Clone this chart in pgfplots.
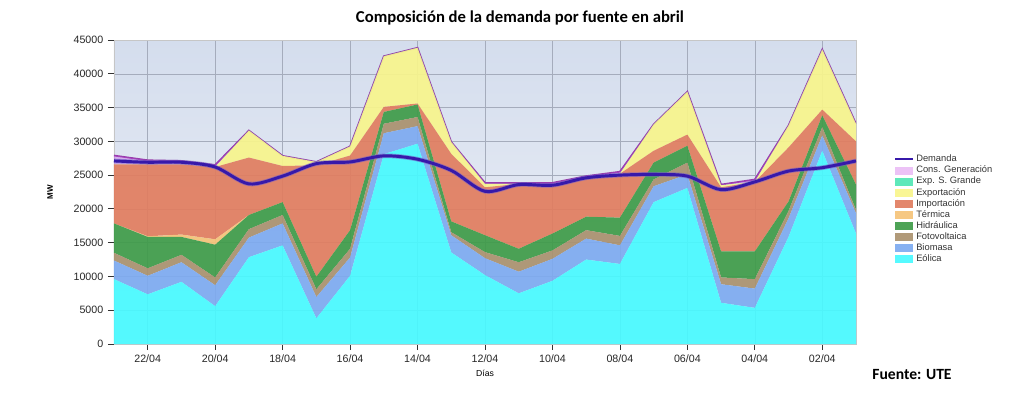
\documentclass[border=0pt]{standalone}
\usepackage{fontspec}
\setmainfont{Liberation Sans}
\newfontfamily\titlefont{Carlito}
\usepackage{pgfplots}
\usepackage{pgfplotstable}
\pgfplotsset{compat=1.18}
\definecolor{bgtop}{RGB}{212,221,237}
\definecolor{bgbot}{RGB}{238,241,248}
\definecolor{eol}{RGB}{72,250,255}
\definecolor{bio}{RGB}{125,170,240}
\definecolor{fv}{RGB}{170,145,110}
\definecolor{hid}{RGB}{62,155,72}
\definecolor{ter}{RGB}{245,195,120}
\definecolor{imp}{RGB}{225,125,95}
\definecolor{expo}{RGB}{248,245,140}
\definecolor{sg}{RGB}{80,230,180}
\definecolor{cons}{RGB}{200,80,230}
\definecolor{consline}{RGB}{150,60,170}
\definecolor{dem}{RGB}{55,25,170}
\definecolor{gridc}{RGB}{165,172,188}
\pgfplotsset{
  arealeg/.style={legend image code/.code={\fill[##1] (0pt,-3pt) rectangle (13pt,3pt);}},
  demleg/.style={legend image code/.code={\draw[line width=1.4pt,color=dem] (0pt,0pt) -- (13pt,0pt);}}
}
\pgfplotstableread{
day E B FV H T I X SG C D
23 9600 2750 1150 4350 0 8750 0 0 1300 27100
22 7350 2750 1100 4650 100 10650 0 0 600 26900
21 9200 2900 1100 2650 350 10400 0 0 500 26900
20 5600 3100 1150 4850 800 10700 0 0 300 26200
19 12850 2900 1250 2100 0 8500 4000 0 0 23700
18 14600 3250 1250 1900 0 5350 1500 0 0 24850
17 3800 3150 1150 1850 0 16500 500 0 0 26700
16 10100 2700 1300 2750 0 11050 1350 0 0 26950
15 28100 3100 1400 1750 0 750 7500 0 0 27850
14 29650 2600 1350 1850 0 150 8250 0 0 27350
13 13550 2550 450 1600 0 10000 1750 0 0 25700
12 10200 2500 900 2500 0 7100 500 0 150 22600
11 7500 3200 1400 2000 0 9600 0 0 150 23600
10 9350 3250 1250 2500 0 7250 0 0 250 23500
9 12500 3100 1250 2000 0 5900 0 0 100 24600
8 11850 2750 1400 2700 0 6500 0 0 300 25000
7 21000 2350 1000 2500 0 1750 3900 0 0 25100
6 23100 2000 1750 2500 0 1650 6350 0 0 24850
5 6100 2750 1000 3850 0 9500 300 0 100 22850
4 5350 2850 1400 4100 0 10300 0 0 350 24000
3 15850 2750 1100 1400 0 8000 3250 0 0 25600
2 28600 2250 1250 1750 0 850 8900 0 0 26100
1 16350 3000 500 3750 0 6400 2600 0 0 27100
}\datatab
\begin{document}
\begin{tikzpicture}[x=1pt,y=1pt]
\path[use as bounding box] (0,0) rectangle (768,295.5);
\begin{axis}[
  at={(85.5pt,37.5pt)}, anchor=south west, scale only axis,
  width=556.5pt, height=228pt,
  xmin=1, xmax=23, x dir=reverse,
  ymin=0, ymax=45000,
  ytick={0,5000,...,45000},
  xtick={2,4,...,22},
  xticklabels={02/04,04/04,06/04,08/04,10/04,12/04,14/04,16/04,18/04,20/04,22/04},
  scaled y ticks=false,
  /pgf/number format/assume math mode=true,
  /pgf/number format/set thousands separator={},
  tick label style={font=\fontsize{8}{9}\selectfont, text=black!85},
  xtick pos=left, ytick pos=left, tick align=outside,
  major tick length=4.5pt,
  tick style={black!80, line width=0.6pt},
  axis line style={draw=gray!45},
  grid=major, major grid style={color=gridc, line width=0.4pt},
  axis background/.style={top color=bgtop, bottom color=bgbot},
  stack plots=y,
  xlabel={Días}, ylabel={\textbf{MW}},
  xlabel style={font=\fontsize{6.5}{7}\selectfont, at={(axis description cs:0.5,-0.095)}, anchor=center},
  ylabel style={font=\fontsize{6}{7}\selectfont, at={(axis description cs:-0.086,0.5)}, anchor=center},
  reverse legend,
  legend style={draw=none, fill=none, at={(1.046,0.64)}, anchor=north west,
    font=\fontsize{7}{8}\selectfont, text=black!80, row sep=-2.3pt, cells={anchor=west}},
]
\addplot[fill=eol, fill opacity=0.92, draw=none, arealeg] table[x=day,y=E]{\datatab} \closedcycle;
\addlegendentry{Eólica}
\addplot[fill=bio, fill opacity=0.92, draw=none, arealeg] table[x=day,y=B]{\datatab} \closedcycle;
\addlegendentry{Biomasa}
\addplot[fill=fv, fill opacity=0.92, draw=none, arealeg] table[x=day,y=FV]{\datatab} \closedcycle;
\addlegendentry{Fotovoltaica}
\addplot[fill=hid, fill opacity=0.92, draw=none, arealeg] table[x=day,y=H]{\datatab} \closedcycle;
\addlegendentry{Hidráulica}
\addplot[fill=ter, fill opacity=0.92, draw=none, arealeg] table[x=day,y=T]{\datatab} \closedcycle;
\addlegendentry{Térmica}
\addplot[fill=imp, fill opacity=0.92, draw=none, arealeg] table[x=day,y=I]{\datatab} \closedcycle;
\addlegendentry{Importación}
\addplot[fill=expo, fill opacity=0.92, draw=none, arealeg] table[x=day,y=X]{\datatab} \closedcycle;
\addlegendentry{Exportación}
\addplot[fill=sg, fill opacity=0.92, draw=none, arealeg] table[x=day,y=SG]{\datatab} \closedcycle;
\addlegendentry{Exp. S. Grande}
\addplot[fill=cons, fill opacity=0.35, draw=none, arealeg] table[x=day,y=C]{\datatab} \closedcycle;
\addlegendentry{Cons. Generación}
\addplot[consline, line width=1.3pt, no marks, forget plot] table[x=day,y expr=0]{\datatab};
\addlegendimage{demleg}
\addlegendentry{Demanda}
\end{axis}
\begin{axis}[
  at={(85.5pt,37.5pt)}, anchor=south west, scale only axis,
  width=556.5pt, height=228pt,
  xmin=1, xmax=23, x dir=reverse,
  ymin=0, ymax=45000, hide axis,
]
\addplot[dem!70!white, opacity=0.6, line width=3.4pt, smooth, no marks] table[x=day,y=D]{\datatab};
\addplot[dem, line width=2.2pt, smooth, no marks] table[x=day,y=D]{\datatab};
\end{axis}
\node[font=\titlefont\bfseries\fontsize{12.5}{14}\selectfont] at (390,282) {Composición de la demanda por fuente en abril};
\node[font=\titlefont\bfseries\fontsize{11.7}{13}\selectfont] at (684,14.5) {Fuente: UTE};
\end{tikzpicture}
\end{document}
